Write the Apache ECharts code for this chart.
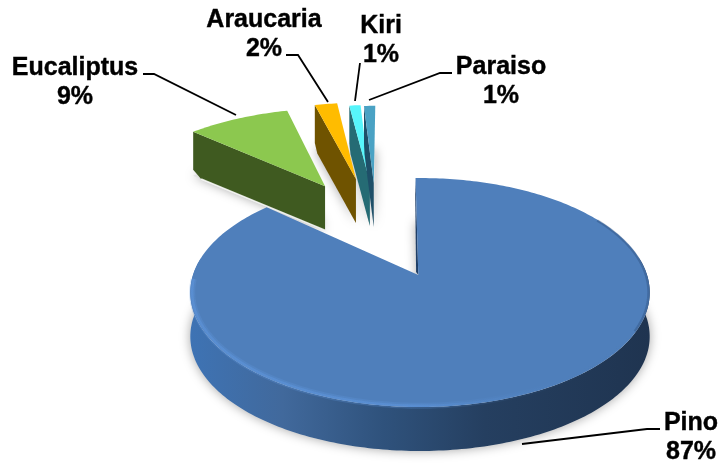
<!DOCTYPE html>
<html>
<head>
<meta charset="utf-8">
<style>html,body{margin:0;padding:0;background:#fff}#c{width:722px;height:464px}</style>
<script src="https://cdn.jsdelivr.net/npm/echarts@6/dist/echarts.min.js"></script>
</head>
<body>
<div id="c"></div>
<script>
const names = ['Pino', 'Eucaliptus', 'Araucaria', 'Kiri', 'Paraiso'];
const values = [87, 9, 2, 1, 1];

// styling and layout, kept apart from the data
const topColors = ['#4f7fbb', '#8cc84f', '#ffbc00', '#57f5fb', '#4aa2c4'];
const wallColors = ['#2a4a73', '#3f5a20', '#6f5300', '#256b74', '#1e4f68'];
const explode = [[0, 0], [-0.476, -0.905], [-0.325, -0.989], [-0.253, -0.953], [-0.233, -0.94]];
const labelPos = [[691, 438], [75, 83], [264, 35], [381, 41], [501, 82]];
const leaders = [
  [[522, 444], [647, 429], [660, 429]],
  [[143, 74], [154, 74], [236, 115]],
  [[286, 55], [298, 55], [328, 102]],
  [[360, 63], [355, 101]],
  [[369, 100], [440, 73], [452, 73]]
];
const CX = 420, CY = 275, R = 227, A = 111.8, K = 0.153, H = 44, ROT = -1.3, SLICE_SCALE = 1.03;
const PINO_APEX_X = 418.3;
const total = values.reduce((a, b) => a + b, 0);

function proj(u, v, h) {
  const w = 1 - K * v;
  return [CX + R * u / w, CY + A * v / w + (h || 0)];
}
function rimPt(deg, off, h, scale) {
  const t = deg * Math.PI / 180, s = scale || 1;
  return proj(off[0] + s * Math.sin(t), off[1] - s * Math.cos(t), h);
}
function arc(a0, a1, off, h, scale) {
  const pts = [], n = Math.max(2, Math.ceil(Math.abs(a1 - a0)));
  for (let i = 0; i <= n; i++) pts.push(rimPt(a0 + (a1 - a0) * i / n, off, h, scale));
  return pts;
}
const G = echarts.graphic;

function renderItem(params, api) {
  const i = params.dataIndex;
  let before = 0;
  for (let j = 0; j < i; j++) before += values[j];
  const a0 = ROT + before / total * 360;
  const a1 = a0 + api.value(0) / total * 360;
  const off = explode[i];
  const sc = i === 0 ? 1 : SLICE_SCALE;
  const apex = proj(off[0], off[1], 0);
  if (i === 0) apex[0] = PINO_APEX_X;
  const topFace = [apex].concat(arc(a0, a1, off, 0, sc));
  const apBot = [apex[0], apex[1] + H];
  const base = [apBot].concat(arc(a0, a1, off, H, sc));
  const kids = [];
  // soft cast shadow under the slice
  kids.push({ type: 'polygon', z2: 1, shape: { points: base },
    style: { fill: '#e2e2e2', shadowBlur: 11, shadowColor: 'rgba(0,0,0,0.36)' } });
  if (i === 0) {
    // outer visible wall (rightmost limb, through the front, to the leftmost limb)
    const limb = 90 - Math.acos(K) * 180 / Math.PI;
    const wallTop = arc(90 - limb, 270 + limb, off, 0);
    const wallBot = arc(90 - limb, 270 + limb, off, H);
    const wall = wallTop.concat(wallBot.slice().reverse());
    kids.push({ type: 'polygon', z2: 3, shape: { points: wall },
      style: { fill: new G.LinearGradient(0, 0, 1, 0, [
        { offset: 0, color: '#3e73b4' }, { offset: 0.2, color: '#41699c' },
        { offset: 0.42, color: '#2f527c' }, { offset: 0.64, color: '#253f60' },
        { offset: 1, color: '#1f3450' }]) } });
    // dark sliver along the first cut
    const c = rimPt(a0, off, 0);
    kids.push({ type: 'polygon', z2: 3, shape: { points: [c, apex, [apex[0] - 2.2, apex[1] - 3], [c[0] - 0.3, c[1] + 18]] },
      style: { fill: '#1f3f68' } });
    kids.push({ type: 'polygon', z2: 4, shape: { points: topFace }, style: { fill: topColors[0] } });
    // bevel highlight on the front rim
    const rim = arc(120, 268, off, 0, 0.992);
    const rimGrad = a => new G.LinearGradient(0, 0, 1, 0, [
      { offset: 0, color: 'rgba(96,152,224,' + a + ')' }, { offset: 0.5, color: 'rgba(96,152,224,' + a + ')' },
      { offset: 0.72, color: 'rgba(90,145,215,' + a * 0.3 + ')' }, { offset: 1, color: 'rgba(60,105,160,0)' }]);
    kids.push({ type: 'polyline', z2: 5, shape: { points: rim },
      style: { fill: null, stroke: rimGrad(0.25), lineWidth: 6 } });
    kids.push({ type: 'polyline', z2: 5, shape: { points: rim },
      style: { fill: null, stroke: rimGrad(0.45), lineWidth: 2.5 } });
    // darker bevel on the right side
    kids.push({ type: 'polyline', z2: 5, shape: { points: arc(58, 118, off, 0, 0.995) },
      style: { fill: null, stroke: 'rgba(40,72,115,0.35)', lineWidth: 2.5 } });
  } else {
    // wall on the cut that faces the viewer
    const cTop = rimPt(a0, off, 0, sc);
    const cBot = rimPt(a0, off, H, sc);
    const t = 0.06;
    const wall = [apex, cTop, [cBot[0], cBot[1] - 6],
      [cBot[0] + (apBot[0] - cBot[0]) * t, cBot[1] + (apBot[1] - cBot[1]) * t], apBot];
    const z = 10 + i * 3;
    kids.push({ type: 'polygon', z2: z, shape: { points: wall }, style: { fill: wallColors[i] } });
    kids.push({ type: 'polygon', z2: z + 1, shape: { points: topFace }, style: { fill: topColors[i] } });
    if (i === 1) {
      kids.push({ type: 'polyline', z2: z, shape: { points: [wall[3], apBot] },
        style: { fill: null, stroke: 'rgba(255,255,255,0.85)', lineWidth: 1.6 } });
    }
  }
  // leader line and label
  kids.push({ type: 'polyline', z2: 40, shape: { points: leaders[i] },
    style: { fill: null, stroke: '#000', lineWidth: 1.8 } });
  kids.push({ type: 'text', z2: 41, style: {
    text: names[i] + '\n' + Math.round(api.value(0) / total * 100) + '%',
    x: labelPos[i][0], y: labelPos[i][1], textAlign: 'center', textVerticalAlign: 'middle',
    font: 'bold 25px "Liberation Sans", Arial, sans-serif', lineHeight: 29, fill: '#000',
    stroke: '#000', lineWidth: 0.4 } });
  return { type: 'group', children: kids };
}

const chart = echarts.init(document.getElementById('c'), null, { renderer: 'canvas' });
chart.setOption({
  animation: false,
  backgroundColor: '#fff',
  series: [{
    type: 'custom',
    coordinateSystem: 'none',
    silent: true,
    renderItem: renderItem,
    data: values.map((v, i) => ({ name: names[i], value: [v] }))
  }]
});
</script>
</body>
</html>
